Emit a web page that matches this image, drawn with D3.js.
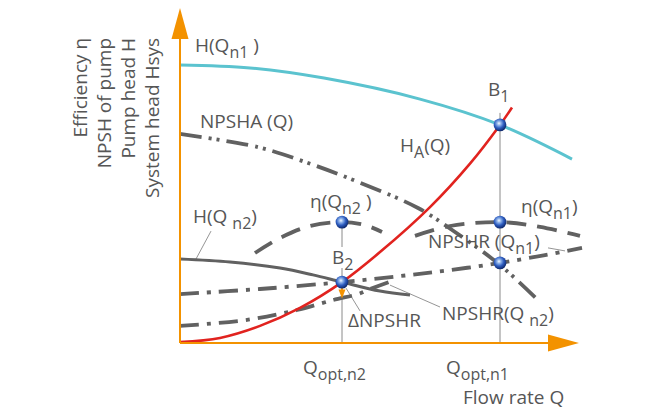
<!DOCTYPE html>
<html><head><meta charset="utf-8">
<script src="https://cdn.jsdelivr.net/npm/d3@7"></script>
<style>
html,body{margin:0;padding:0;background:#fff;}
svg{display:block;font-family:"Open Sans",sans-serif;}
</style></head>
<body>
<svg id="c" width="650" height="416"></svg>
<script>
// ---- data (chart units: Q along x, value along y) ----
const qOpt = [40.5, 80];
const hN1      = [[0,92.7],[17.5,91.7],[36,88.3],[60,81.3],[80,72.7],[98,61.3]];
const hSys     = [[0,0.3],[10,1.7],[20,5.7],[30,11.7],[40.5,20.3],[50,30.3],[62.5,45.3],[72.5,59.8],[80,72.7],[83,78.5]];
const npshA    = [[0,69.7],[19.5,65.3],[32,60],[44.5,53.7],[59.5,45],[68.75,37],[80,26],[89.5,14.3]];
const etaN2    = [[18.75,30],[25,35],[32.5,39],[40.5,40.3],[46.25,39.3],[50.5,37]];
const etaN1    = [[58.75,35.7],[67.5,39],[80,40.3],[90,38.7],[100,35.7]];
const npshrN1  = [[0,16.3],[20,18],[40.5,20.3],[55,22.3],[67.5,24.3],[80,26.7],[91.25,29.3],[100.5,31.7]];
const npshrN2  = [[0,5.7],[16.75,7.7],[29.25,11],[38.25,14.3],[44.5,16.3],[47,17.7],[53,20.7]];
const hN2      = [[0,28],[12.5,27],[25,25],[33.25,22.7],[40.5,20.3],[50,17.3],[57.5,16]];
const points   = [[80,72.7],[40.5,20.3],[40.5,40.3],[80,40.3],[80,26.7]];
const yTitle   = ["Efficiency η","NPSH of pump","Pump head H","System head Hsys"];
const xTitle   = "Flow rate Q";

const svg = d3.select("#c");
const x = d3.scaleLinear().domain([0,100]).range([180,580]);
const y = d3.scaleLinear().domain([0,100]).range([343,43]);

const gray = "#616161", txt = "#565656", orange = "#f39200";

const defs = svg.append("defs");
const rg = defs.append("radialGradient").attr("id","ball").attr("cx","42%").attr("cy","38%").attr("r","62%");
[["0%","#f4f8ff"],["25%","#8fb3ea"],["60%","#2d5cbf"],["100%","#0d276a"]].forEach(s=>rg.append("stop").attr("offset",s[0]).attr("stop-color",s[1]));

const line = d3.line().x(d=>x(d[0])).y(d=>y(d[1])).curve(d3.curveCatmullRom.alpha(0.5));

// guide verticals
svg.append("line").attr("x1",x(qOpt[0])).attr("x2",x(qOpt[0])).attr("y1",y(40.3)).attr("y2",y(32)).attr("stroke","#8a8a8a").attr("stroke-width",1);
svg.append("line").attr("x1",x(qOpt[0])).attr("x2",x(qOpt[0])).attr("y1",y(25)).attr("y2",y(0)).attr("stroke","#8a8a8a").attr("stroke-width",1);
svg.append("line").attr("x1",x(qOpt[1])).attr("x2",x(qOpt[1])).attr("y1",y(76.7)).attr("y2",y(0)).attr("stroke","#8a8a8a").attr("stroke-width",1);

// leader lines
const leaders = [[[7.75,37.3],[4,28]],[[45,10.7],[41.5,18.3]],[[65,12],[52.5,19.3]],[[92,31.7],[96.25,30.7]]];
leaders.forEach(l=>svg.append("line").attr("x1",x(l[0][0])).attr("y1",y(l[0][1])).attr("x2",x(l[1][0])).attr("y2",y(l[1][1])).attr("stroke","#7a7a7a").attr("stroke-width",0.8));

function path(data, color, w, dash){
  const p = svg.append("path").datum(data).attr("d",line).attr("fill","none")
    .attr("stroke",color).attr("stroke-width",w).attr("stroke-linecap","butt");
  if(dash) p.attr("stroke-dasharray",dash);
  return p;
}
path(npshA, gray, 3.8, "22 7 3 5 3 7");
path(etaN2, gray, 3.8, "20 11");
path(etaN1, gray, 3.8, "20 11");
path(npshrN2, gray, 3.8, "19 8 4 8");
path(npshrN1, gray, 3.8, "19 8 4 8");
path(hN2, gray, 3, null);
path(hN1, "#5bc3cf", 3, null);
path(hSys, "#e1231f", 2.6, null);

// axes
svg.append("line").attr("x1",x(0)).attr("x2",x(92)).attr("y1",y(0)).attr("y2",y(0)).attr("stroke",orange).attr("stroke-width",2);
svg.append("line").attr("x1",x(0)).attr("x2",x(0)).attr("y1",y(0)).attr("y2",y(101.3)).attr("stroke",orange).attr("stroke-width",2);
svg.append("path").attr("d",`M${x(99.75)},${y(0)} L${x(92)},${y(0)-8.5} L${x(92)},${y(0)+8.5} Z`).attr("fill",orange);
svg.append("path").attr("d",`M${x(0)},${y(111.7)} L${x(0)-8.5},${y(101.3)} L${x(0)+8.5},${y(101.3)} Z`).attr("fill",orange);

// delta NPSHR arrow
svg.append("line").attr("x1",x(qOpt[0])).attr("x2",x(qOpt[0])).attr("y1",y(20.3)).attr("y2",y(17)).attr("stroke",orange).attr("stroke-width",1.6);
svg.append("path").attr("d",`M${x(qOpt[0])},${y(14.8)} L${x(qOpt[0])-3.5},${y(17.8)} L${x(qOpt[0])+3.5},${y(17.8)} Z`).attr("fill",orange);

// balls
svg.selectAll("circle.b").data(points).join("circle").attr("class","b")
  .attr("cx",d=>x(d[0])).attr("cy",d=>y(d[1])).attr("r",6.4).attr("fill","url(#ball)");

// labels
function label(q, v, parts){
  const t = svg.append("text").attr("x",x(q)).attr("y",y(v)).attr("fill",txt).attr("font-size",19);
  let shift = 0;
  parts.forEach(p=>{
    const sub = p[1];
    const ts = t.append("tspan").text(p[0]);
    const target = sub ? 6 : 0;
    if(target!==shift){ ts.attr("dy", target-shift); shift = target; }
    if(sub) ts.attr("font-size",16);
  });
}
label(3.75,97,[["H(Q"],["n1",1],[" )"]]);
label(5,71.67,[["NPSHA (Q)"]]);
label(77,82.33,[["B"],["1",1]]);
label(55,63.67,[["H"],["A",1],["(Q)"]]);
label(32.5,45,[["η(Q"],["n2",1],[" )"]]);
label(3.25,40,[["H(Q "],["n2",1],[")"]]);
label(38,26.33,[["B"],["2",1]]);
label(62,31.67,[["NPSHR (Q"],["n1",1],[")"]]);
label(85.25,43.33,[["η(Q"],["n1",1],[")"]]);
label(65.5,7.67,[["NPSHR(Q "],["n2",1],[")"]]);
label(42,5.33,[["ΔNPSHR"]]);
label(30.75,-10.33,[["Q"],["opt,n2",1]]);
label(66.5,-10.33,[["Q"],["opt,n1",1]]);
label(70.75,-20.33,[[xTitle]]);

// y title (rotated)
const base = [86.5,110.5,134.5,158.5];
yTitle.forEach((s,i)=>{
  svg.append("text").attr("transform",`translate(${base[i]},${y(101.7)}) rotate(-90)`)
    .attr("text-anchor","end").attr("fill",txt).attr("font-size",19).text(s);
});
</script>
</body></html>
